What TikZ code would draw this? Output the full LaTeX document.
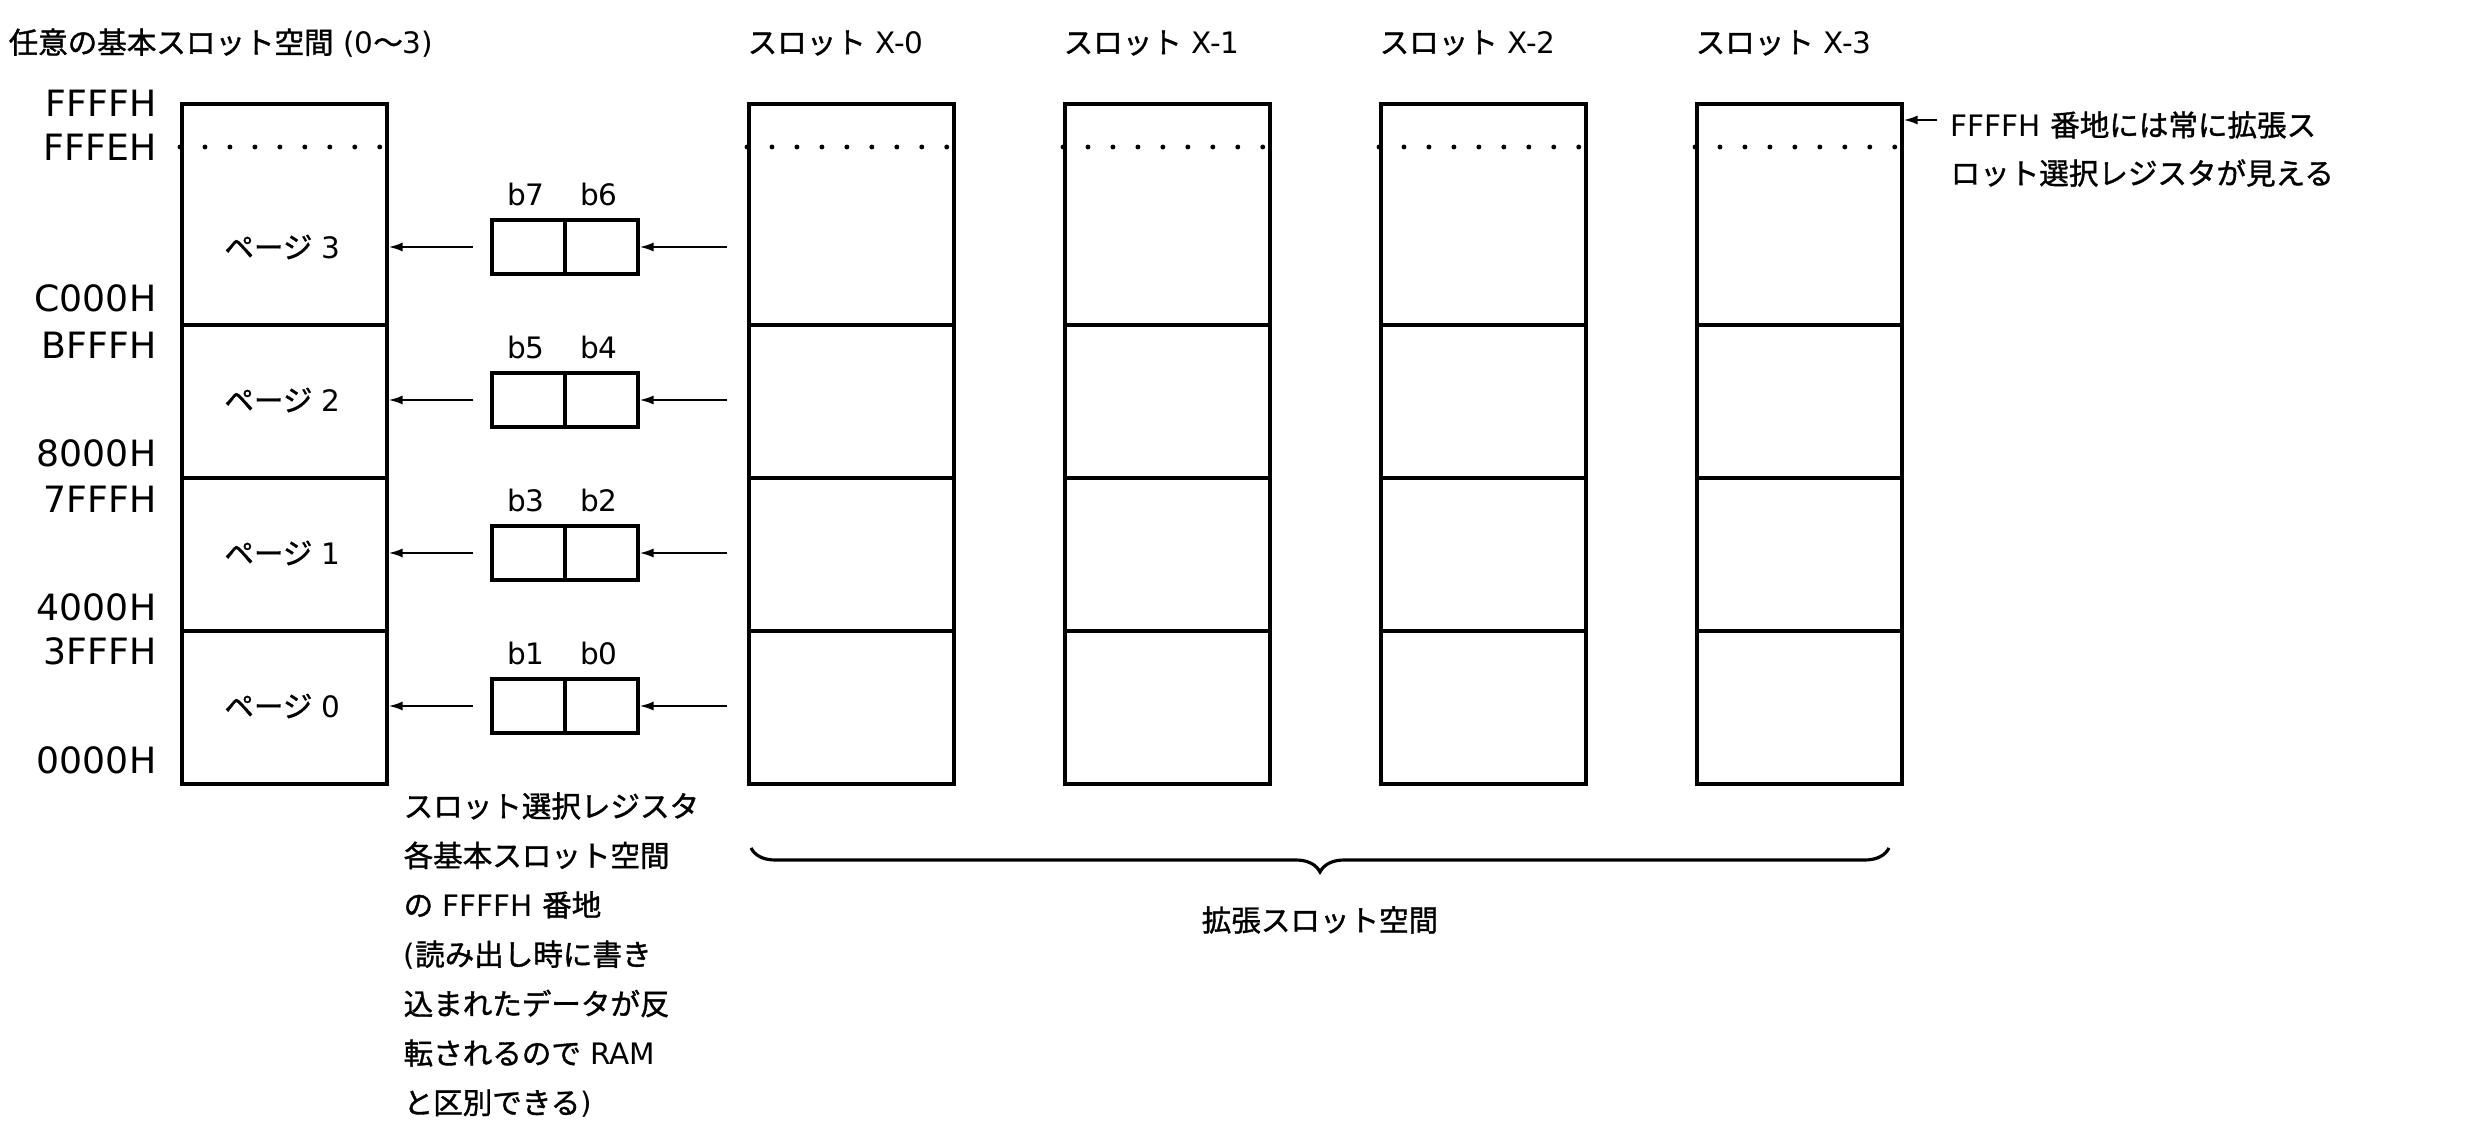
\documentclass[tikz,border=0pt]{standalone}
\usepackage{fontspec}
\setmainfont{DejaVu Sans}
\newfontfamily\jp[FakeBold=1.2]{Noto Sans CJK JP}
\usetikzlibrary{arrows.meta,decorations.pathreplacing}
\begin{document}
\begin{tikzpicture}[x=0.01cm,y=-0.01cm,
  seg/.style={draw, line width=1pt, minimum width=2.05cm, inner sep=0pt, anchor=north west},
  regbox/.style={draw, line width=0.9pt, minimum width=0.73cm, minimum height=0.54cm, inner sep=0pt},
  arr/.style={line width=0.6pt, -{Latex[length=4pt,width=2.6pt]}},
  dotline/.style={line width=1.4pt, line cap=round, dash pattern=on 0pt off 7.1pt},
  addr/.style={anchor=east, inner sep=0pt, font=\fontsize{10.3pt}{12pt}\selectfont},
  txt/.style={inner sep=0pt, font=\fontsize{8.4pt}{14pt}\selectfont},
]
\fill[white] (0,0) rectangle (2468,1125);
\useasboundingbox (0,0) rectangle (2468,1125);

% titles
\node[txt, anchor=west] (title) at (8,43) {{\jp 任意の基本スロット空間} (0{\jp 〜}3)};
\foreach \s/\x in {0/747,1/1063,2/1379,3/1695}
  \node[txt, anchor=west] (t\s) at (\x,43) {{\jp スロット} X-\s};

% memory boxes
\foreach \n/\t/\h in {3/102/2.21, 2/323/1.53, 1/476/1.53, 0/629/1.53} {
  \node[seg, minimum height=\h cm] (b\n) at (180,\t) {};
  \foreach \s/\x in {0/747,1/1063,2/1379,3/1695}
    \node[seg, minimum height=\h cm] (s\s-\n) at (\x,\t) {};
}
\foreach \x in {180,747,1063,1379,1695}
  \draw[dotline] (\x,147) -- ++(205,0);

% address labels
\foreach \a/\y in {FFFFH/103, FFFEH/147, C000H/298, BFFFH/345, 8000H/453, 7FFFH/499, 4000H/607, 3FFFH/651, 0000H/760}
  \node[addr] (ad\a) at (157,\y) {\a};

% registers, page labels and arrows
\foreach \n/\y/\hi/\lo in {3/247/b7/b6, 2/400/b5/b4, 1/553/b3/b2, 0/706/b1/b0} {
  \node[txt] (pl\n) at (282.5,\y) {{\jp ページ} \n};
  \node[regbox] (r\n-a) at (528.5,\y) {};
  \node[regbox] (r\n-b) at (601.5,\y) {};
  \node[txt] (l\n-a) at (526,\y-53) {\hi};
  \node[txt] (l\n-b) at (599,\y-53) {\lo};
  \draw[arr, shorten <=0.17cm] (r\n-a.west) -- (r\n-a.west -| b\n.east);
  \draw[arr, shorten <=0.2cm] (r\n-b.east -| s0-\n.west) -- (r\n-b.east);
}

% annotation at right
\coordinate (annpt) at (1937,120);
\draw[arr] (annpt) -- (annpt -| s3-3.east);
\node[txt, anchor=west, align=left, font=\fontsize{8.4pt}{13.7pt}\selectfont] (ann) at (1950,149)
  {FFFFH {\jp 番地には常に拡張ス}\\{\jp ロット選択レジスタが見える}};

% note under registers
\node[txt, anchor=west, align=left, font=\fontsize{8.4pt}{14.05pt}\selectfont] (note) at (403,955)
  {{\jp スロット選択レジスタ}\\
   {\jp 各基本スロット空間}\\
   {\jp の} FFFFH {\jp 番地}\\
   ({\jp 読み出し時に書き}\\
   {\jp 込まれたデータが反}\\
   {\jp 転されるので} RAM\\
   {\jp と区別できる})};

% brace
\draw[line width=0.9pt, decorate, decoration={brace, mirror, amplitude=0.24cm}] (751,848) -- (1889,848);
\node[txt] (ext) at (1320,920) {\jp 拡張スロット空間};
\end{tikzpicture}
\end{document}
